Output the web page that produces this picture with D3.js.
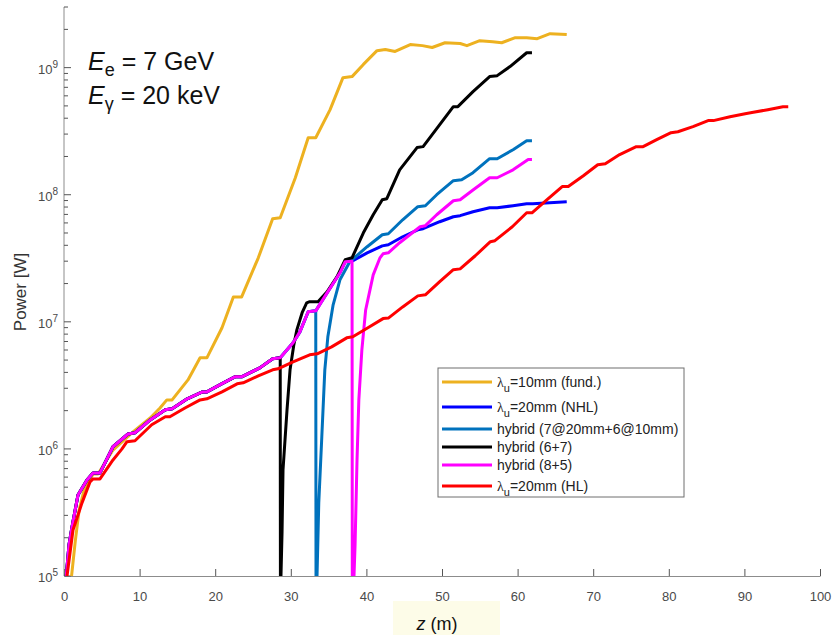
<!DOCTYPE html>
<html>
<head>
<meta charset="utf-8">
<script src="https://cdn.jsdelivr.net/npm/d3@7"></script>
<style>
  body { margin: 0; background: #fff; }
  text { font-family: "Liberation Sans", Arial, sans-serif; }
</style>
</head>
<body>
<script>

// z (m), power (W)
var fund10 = [[1.0,1e5],[1.5,1.9e5],[2.0,3.3e5],[2.65,4.75e5],[3.84,6.35e5],[4.5,6.35e5],[6.48,9.8e5],
  [9.13,1.36e6],[11.4,1.75e6],[12.7,2.1e6],[13.6,2.43e6],[14.3,2.43e6],[16.4,3.49e6],[18.0,5.21e6],
  [18.9,5.21e6],[20.9,8.98e6],[22.4,1.57e7],[23.5,1.57e7],[25.7,3.19e7],[27.6,6.47e7],[28.6,6.59e7],
  [30.6,1.36e8],[32.3,2.81e8],[33.3,2.81e8],[35.2,4.67e8],[36.9,8.34e8],[38.1,8.5e8],[39.6,1.06e9],
  [41.4,1.36e9],[42.5,1.39e9],[43.8,1.34e9],[45.8,1.52e9],[47.4,1.49e9],[48.7,1.44e9],[50.4,1.57e9],
  [52.4,1.55e9],[53.3,1.49e9],[55.0,1.63e9],[56.7,1.60e9],[57.9,1.57e9],[59.7,1.72e9],[61.2,1.72e9],
  [62.6,1.69e9],[64.3,1.85e9],[66.5,1.82e9]]

var nhl20 = [[0.3,1e5],[0.66,1.75e5],[1.06,2.43e5],[1.85,4.34e5],[3.04,5.7e5],[3.84,6.47e5],[4.76,6.47e5],
  [6.48,1.04e6],[8.47,1.31e6],[9.39,1.34e6],[11.4,1.69e6],[13.4,2.03e6],[14.3,2.07e6],[16.3,2.48e6],
  [18.3,2.81e6],[18.9,2.81e6],[20.6,3.19e6],[22.6,3.69e6],[23.5,3.69e6],[25.9,4.34e6],[27.6,5.12e6],
  [28.6,5.21e6],[30.3,6.84e6],[31.2,8.34e6],[32.3,1.2e7],[33.3,1.22e7],[34.8,1.69e7],[36.5,2.43e7],
  [37.2,2.97e7],[38.1,3.0e7],[40.1,3.49e7],[42.1,3.96e7],[42.9,4.04e7],[44.8,4.67e7],[46.8,5.3e7],
  [47.5,5.4e7],[49.7,6.13e7],[51.5,6.71e7],[52.4,6.84e7],[54.1,7.35e7],[56.3,7.9e7],[57.3,7.9e7],
  [59.4,8.19e7],[61.2,8.49e7],[62.0,8.49e7],[66.5,8.81e7]]

// hybrid tails after the switch to 10 mm sections
var tail7_6 = [[33.35,1e4],[33.47,1e5],[33.7,3.76e5],[34.1,1.24e6],[34.5,4.19e6],[34.9,7.62e6],
  [35.6,1.36e7],[36.5,2.14e7],[37.8,2.97e7],[40.1,3.9e7],[42.1,4.84e7],[42.9,4.93e7],[44.8,6.35e7],
  [46.8,8.05e7],[47.8,8.19e7],[49.3,1.0e8],[51.5,1.29e8],[52.6,1.31e8],[54.1,1.49e8],[56.3,1.92e8],
  [57.3,1.92e8],[59.4,2.26e8],[61.2,2.66e8],[61.9,2.66e8]]

var tail6_7 = [[28.64,1e4],[28.7,1e5],[28.84,2.18e5],[28.97,6.83e5],[29.5,2.03e6],[29.9,4.19e6],
  [30.4,6.59e6],[30.8,8.65e6],[31.5,1.18e7],[32.1,1.41e7],[32.5,1.44e7],[33.6,1.44e7],[34.8,1.72e7],
  [36.1,2.26e7],[37.2,3.08e7],[38.1,3.19e7],[39.6,5.02e7],[40.9,6.96e7],[42.1,9.14e7],[42.7,9.31e7],
  [44.4,1.57e8],[46.7,2.35e8],[47.5,2.39e8],[49.5,3.43e8],[51.5,4.93e8],[52.1,4.93e8],[54.1,6.47e8],
  [56.3,8.5e8],[57.3,8.65e8],[59.0,1.02e9],[61.2,1.31e9],[61.9,1.31e9]]

var tail8_5 = [[38.15,1e4],[38.36,1e5],[38.5,1.75e5],[38.76,8.19e5],[39.0,2.43e6],[39.4,6.02e6],
  [39.9,1.24e7],[40.9,2.34e7],[41.8,3.19e7],[42.2,3.43e7],[42.9,3.49e7],[44.4,4.19e7],[47.1,5.6e7],
  [47.8,5.71e7],[49.3,6.96e7],[51.5,8.97e7],[52.4,9.14e7],[54.1,1.09e8],[56.3,1.36e8],[57.3,1.36e8],
  [59.4,1.57e8],[61.4,1.89e8],[61.9,1.89e8]]

var hl20 = [[0.4,1e5],[1.19,2.3e5],[2.38,3.76e5],[3.44,5.5e5],[3.84,5.81e5],[4.76,5.81e5],[6.48,8.19e5],
  [7.67,1.0e6],[8.33,1.14e6],[9.39,1.16e6],[11.6,1.55e6],[13.4,1.79e6],[14.0,1.79e6],[16.0,2.1e6],
  [18.0,2.43e6],[18.9,2.48e6],[20.9,2.81e6],[22.9,3.25e6],[23.7,3.31e6],[25.7,3.76e6],[27.6,4.19e6],
  [28.3,4.27e6],[30.3,4.84e6],[32.5,5.5e6],[33.5,5.6e6],[35.4,6.35e6],[37.4,7.48e6],[38.2,7.62e6],
  [40.2,8.97e6],[42.2,1.06e7],[42.9,1.07e7],[44.8,1.31e7],[46.8,1.6e7],[47.8,1.63e7],[49.7,2.07e7],
  [51.5,2.57e7],[52.4,2.61e7],[54.4,3.31e7],[56.4,4.27e7],[57.0,4.35e7],[59.3,5.6e7],[61.2,7.21e7],
  [61.9,7.21e7],[63.9,9.14e7],[65.9,1.16e8],[66.7,1.16e8],[68.7,1.41e8],[70.6,1.72e8],[71.6,1.75e8],
  [73.5,2.07e8],[75.7,2.39e8],[76.6,2.39e8],[78.4,2.71e8],[80.3,3.08e8],[81.2,3.13e8],[83.2,3.43e8],
  [85.2,3.83e8],[85.9,3.83e8],[88.1,4.11e8],[90.1,4.34e8],[91.0,4.43e8],[93.1,4.67e8],[95.1,4.93e8],
  [95.8,4.93e8]]

var xTicks = [0,10,20,30,40,50,60,70,80,90,100]
var yDecades = [5,6,7,8,9]

function prefix(arr, zmax){ return arr.filter(function(d){ return d[0] <= zmax }) }

// drawing order as in the original (later on top)
var series = [
  {name: 'fund', data: fund10, color: '#EDB120', lam: true, label: '=10mm (fund.)'},
  {name: 'nhl', data: nhl20, color: '#0000FF', lam: true, label: '=20mm (NHL)'},
  {name: 'h76', data: prefix(nhl20, 33.3).concat(tail7_6), color: '#0072BD', label: 'hybrid (7@20mm+6@10mm)'},
  {name: 'h67', data: prefix(nhl20, 28.6).concat(tail6_7), color: '#000000', label: 'hybrid (6+7)'},
  {name: 'h85', data: prefix(nhl20, 38.1).concat(tail8_5), color: '#FF00FF', label: 'hybrid (8+5)'},
  {name: 'hl', data: hl20, color: '#FF0000', lam: true, label: '=20mm (HL)'}
]

var W = 835, H = 635
var svg = d3.select('body').append('svg').attr('width', W).attr('height', H)

var x = d3.scaleLinear().domain([0, 100]).range([64, 820])
  , y = d3.scaleLog().domain([1e5, 3e9]).range([576, 7])
  , axisCol = '#8c8c8c', textCol = '#4a4a4a'

svg.append('clipPath').attr('id', 'clip').append('rect')
  .attr('x', x(0)).attr('y', y(3e9)).attr('width', x(100) - x(0)).attr('height', y(1e5) - y(3e9))

// x axis, ticks pointing inwards
var gx = svg.append('g').attr('transform', 'translate(0,' + y(1e5) + ')')
  .call(d3.axisBottom(x).tickValues(xTicks).tickSizeInner(-7).tickSizeOuter(0).tickPadding(16))
gx.select('.domain').attr('stroke', axisCol)
gx.selectAll('line').attr('stroke', '#555')
gx.selectAll('text').attr('fill', textCol).attr('font-size', 13)
  .attr('font-family', '"Liberation Sans", Arial, sans-serif')

// y axis (log) with minor ticks
var minor = []
yDecades.forEach(function(e){
  for (var k = 1; k <= 9; k++){ var v = k * Math.pow(10, e); if (v <= 3e9) minor.push(v) }
})
var gy = svg.append('g').attr('transform', 'translate(' + x(0) + ',0)')
gy.append('line').attr('y1', y(1e5)).attr('y2', y(3e9)).attr('stroke', axisCol)
gy.selectAll('.mt').data(minor).enter().append('line')
  .attr('y1', function(d){ return y(d) }).attr('y2', function(d){ return y(d) })
  .attr('x1', 0).attr('x2', function(d){ return d / Math.pow(10, Math.floor(Math.log10(d) + 1e-9)) < 1.01 ? 7 : 4 })
  .attr('stroke', '#555')
var yl = gy.selectAll('.yl').data(yDecades).enter().append('text')
  .attr('x', -6).attr('y', function(d){ return y(Math.pow(10, d)) + 6 })
  .attr('text-anchor', 'end').attr('fill', textCol).attr('font-size', 13)
yl.append('tspan').text('10')
yl.append('tspan').attr('dy', -6).attr('font-size', 10).text(function(d){ return d })

// curves
var line = d3.line().x(function(d){ return x(d[0]) }).y(function(d){ return y(d[1]) })
svg.append('g').attr('clip-path', 'url(#clip)')
  .selectAll('path').data(series).enter().append('path')
  .attr('d', function(s){ return line(s.data) })
  .attr('fill', 'none').attr('stroke', function(s){ return s.color })
  .attr('stroke-width', 3).attr('stroke-linejoin', 'round')

// axis labels
svg.append('rect').attr('x', 393).attr('y', 601).attr('width', 107).attr('height', 34).attr('fill', '#fdfce8')
var xt = svg.append('text').attr('x', 437).attr('y', 630).attr('text-anchor', 'middle')
  .attr('font-size', 18).attr('fill', '#111')
xt.append('tspan').attr('font-style', 'italic').text('z')
xt.append('tspan').text(' (m)')

svg.append('text').attr('transform', 'translate(26,292) rotate(-90)').attr('text-anchor', 'middle')
  .attr('font-size', 17).attr('fill', '#333').text('Power [W]')

// annotation
var ann = [['e', ' = 7 GeV', 70], ['γ', ' = 20 keV', 104]]
ann.forEach(function(a){
  var t = svg.append('text').attr('x', 88).attr('y', a[2]).attr('font-family', 'Lato, sans-serif')
    .attr('font-size', 25).attr('fill', '#111')
  t.append('tspan').attr('font-style', 'italic').text('E')
  t.append('tspan').attr('dy', 6).attr('font-size', 18).text(a[0])
  t.append('tspan').attr('dy', -6).text(a[1])
})

// legend
var leg = svg.append('g')
var rows = [], cy = 382
series.forEach(function(s, i){
  if (i > 0) cy += 18 + (series[i-1].lam ? 4 : 0) + (s.lam ? 3 : 0)
  rows.push(cy)
})
leg.append('rect').attr('x', 438).attr('y', 368).attr('width', 246).attr('height', 129)
  .attr('fill', '#fff').attr('stroke', '#6e6e6e')
series.forEach(function(s, i){
  var g = leg.append('g').attr('transform', 'translate(0,' + rows[i] + ')')
  g.append('line').attr('x1', 442).attr('x2', 492).attr('stroke', s.color).attr('stroke-width', 3)
  var t = g.append('text').attr('x', 497).attr('y', 5).attr('font-size', 14).attr('fill', '#222')
  if (s.lam){
    t.append('tspan').attr('font-family', '"Liberation Serif", serif').text('λ')
    t.append('tspan').attr('dy', 5).attr('font-size', 11).text('u')
    t.append('tspan').attr('dy', -5).text(s.label)
  } else t.text(s.label)
})

</script>
</body>
</html>
